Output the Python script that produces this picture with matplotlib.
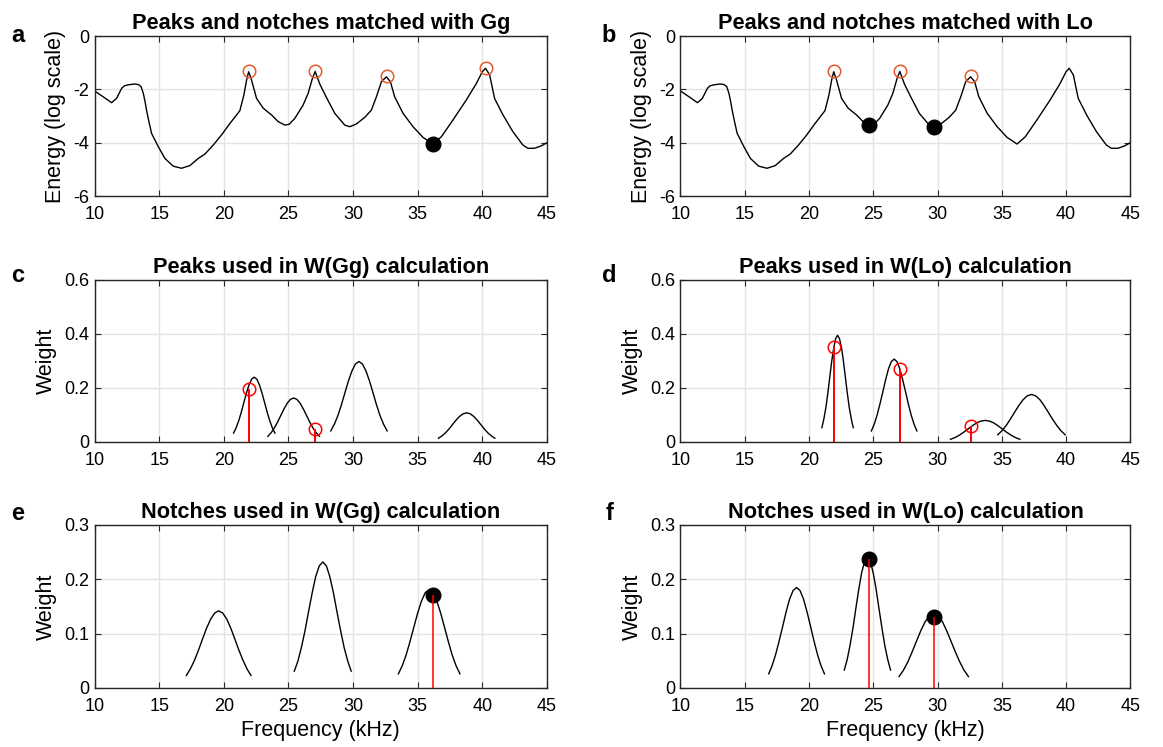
import matplotlib
matplotlib.use('Agg')
import matplotlib.pyplot as plt

plt.rcParams['font.family'] = ['Liberation Sans', 'DejaVu Sans']
plt.rcParams['axes.unicode_minus'] = False

# ---------------- data ----------------
freq = [10.0, 10.67, 11.32, 11.7, 12.1, 12.3, 12.6, 13.1, 13.4, 13.6, 13.77, 13.9, 14.02, 14.2,
        14.41, 14.67, 14.93, 15.44, 16.08, 16.73, 17.37, 18.02, 18.53, 19.18, 19.82, 20.47,
        21.24, 21.55, 21.76, 21.92, 22.14, 22.53, 23.05, 23.69, 24.2, 24.72, 25.05, 25.49,
        26.13, 26.52, 26.85, 27.06, 27.42, 27.93, 28.58, 29.35, 29.74, 30.25, 30.9, 31.41,
        31.8, 32.19, 32.57, 32.88, 33.21, 33.86, 34.63, 35.4, 36.18, 36.82, 37.72, 38.75,
        39.53, 39.99, 40.24, 40.56, 40.94, 41.59, 42.36, 43.13, 43.52, 44.03, 44.55, 45.0]
energy = [-2.06, -2.28, -2.5, -2.34, -1.96, -1.87, -1.83, -1.8, -1.82, -1.9, -2.15, -2.45,
          -2.78, -3.2, -3.65, -3.9, -4.15, -4.59, -4.88, -4.96, -4.86, -4.59, -4.43, -4.09,
          -3.71, -3.28, -2.8, -2.21, -1.65, -1.34, -1.65, -2.34, -2.71, -2.96, -3.21, -3.34,
          -3.31, -3.09, -2.59, -2.15, -1.59, -1.33, -1.8, -2.3, -2.9, -3.34, -3.4, -3.3, -3.05,
          -2.78, -2.28, -1.71, -1.53, -1.71, -2.28, -2.9, -3.4, -3.8, -4.05, -3.78, -3.15,
          -2.4, -1.78, -1.34, -1.21, -1.46, -2.34, -2.96, -3.59, -4.09, -4.21, -4.21, -4.12,
          -4.0]

gg_peak_f = [21.92, 27.06, 32.6, 40.3]
gg_peak_e = [-1.31, -1.31, -1.5, -1.19]
gg_notch_f = [36.2]
gg_notch_e = [-4.05]
lo_peak_f = [21.92, 27.06, 32.6]
lo_peak_e = [-1.31, -1.31, -1.5]
lo_notch_f = [24.7, 29.7]
lo_notch_e = [-3.33, -3.4]

# weights of the matched peaks / notches
gg_peak_used_f = [21.92, 27.06]
gg_peak_used_w = [0.197, 0.048]
lo_peak_used_f = [21.92, 27.06, 32.6]
lo_peak_used_w = [0.35, 0.27, 0.058]
gg_notch_used_f = [36.2]
gg_notch_used_w = [0.172]
lo_notch_used_f = [24.7, 29.7]
lo_notch_used_w = [0.238, 0.131]

# weighting curves
gg_peak_curves_x = [
    [20.75, 20.95, 21.15, 21.35, 21.55, 21.75, 21.95, 22.15, 22.35, 22.55, 22.75, 22.95, 23.15,
     23.35, 23.55, 23.75, 23.95],
    [23.4, 23.65, 23.9, 24.15, 24.4, 24.65, 24.9, 25.15, 25.4, 25.65, 25.9, 26.15, 26.4, 26.65,
     26.9, 27.15, 27.4],
    [28.27, 28.54, 28.82, 29.09, 29.36, 29.63, 29.91, 30.18, 30.45, 30.72, 30.99, 31.27, 31.54,
     31.81, 32.08, 32.36, 32.63],
    [36.6, 36.87, 37.15, 37.42, 37.69, 37.96, 38.24, 38.51, 38.78, 39.05, 39.32, 39.6, 39.87,
     40.14, 40.41, 40.69, 40.96],
]
gg_peak_curves_y = [
    [0.033, 0.0525, 0.0786, 0.1106, 0.1462, 0.1816, 0.212, 0.2327, 0.24, 0.2327, 0.212, 0.1816,
     0.1462, 0.1106, 0.0786, 0.0525, 0.033],
    [0.021, 0.034, 0.0515, 0.0732, 0.0977, 0.1222, 0.1434, 0.1579, 0.163, 0.1579, 0.1434, 0.1222,
     0.0977, 0.0732, 0.0515, 0.034, 0.021],
    [0.041, 0.0652, 0.0976, 0.1373, 0.1815, 0.2254, 0.2633, 0.2889, 0.298, 0.2889, 0.2633, 0.2254,
     0.1815, 0.1373, 0.0976, 0.0652, 0.041],
    [0.014, 0.0226, 0.0342, 0.0486, 0.0648, 0.081, 0.095, 0.1046, 0.108, 0.1046, 0.095, 0.081,
     0.0648, 0.0486, 0.0342, 0.0226, 0.014],
]
lo_peak_curves_x = [
    [21.0, 21.15, 21.31, 21.46, 21.61, 21.76, 21.92, 22.07, 22.22, 22.37, 22.53, 22.68, 22.83,
     22.98, 23.13, 23.29, 23.44],
    [24.85, 25.07, 25.29, 25.51, 25.74, 25.96, 26.18, 26.4, 26.62, 26.84, 27.06, 27.28, 27.51,
     27.73, 27.95, 28.17, 28.39],
    [31.0, 31.34, 31.68, 32.01, 32.35, 32.69, 33.03, 33.36, 33.7, 34.04, 34.38, 34.71, 35.05,
     35.39, 35.73, 36.06, 36.4],
    [34.68, 35.01, 35.34, 35.66, 35.99, 36.32, 36.65, 36.97, 37.3, 37.63, 37.96, 38.28, 38.61,
     38.94, 39.27, 39.59, 39.92],
]
lo_peak_curves_y = [
    [0.053, 0.0846, 0.1273, 0.1799, 0.2388, 0.2976, 0.3483, 0.3828, 0.395, 0.3828, 0.3483, 0.2976,
     0.2388, 0.1799, 0.1273, 0.0846, 0.053],
    [0.041, 0.0657, 0.0989, 0.1398, 0.1856, 0.2313, 0.2707, 0.2975, 0.307, 0.2975, 0.2707, 0.2313,
     0.1856, 0.1398, 0.0989, 0.0657, 0.041],
    [0.010, 0.0163, 0.0248, 0.0355, 0.0476, 0.0597, 0.0703, 0.0774, 0.080, 0.0774, 0.0703, 0.0597,
     0.0476, 0.0355, 0.0248, 0.0163, 0.010],
    [0.027, 0.0419, 0.0613, 0.0846, 0.1101, 0.1352, 0.1565, 0.1709, 0.176, 0.1709, 0.1565, 0.1352,
     0.1101, 0.0846, 0.0613, 0.0419, 0.027],
]
gg_notch_curves_x = [
    [17.1, 17.41, 17.73, 18.04, 18.35, 18.66, 18.98, 19.29, 19.6, 19.91, 20.23, 20.54, 20.85,
     21.16, 21.48, 21.79, 22.1],
    [25.45, 25.73, 26.0, 26.28, 26.55, 26.83, 27.1, 27.38, 27.65, 27.93, 28.2, 28.48, 28.75,
     29.03, 29.3, 29.58, 29.85],
    [33.5, 33.8, 34.1, 34.39, 34.69, 34.99, 35.29, 35.58, 35.88, 36.18, 36.47, 36.77, 37.07,
     37.37, 37.66, 37.96, 38.26],
]
gg_notch_curves_y = [
    [0.023, 0.0352, 0.051, 0.0698, 0.0901, 0.1099, 0.1267, 0.138, 0.142, 0.138, 0.1267, 0.1099,
     0.0901, 0.0698, 0.051, 0.0352, 0.023],
    [0.031, 0.0497, 0.0748, 0.1057, 0.1402, 0.1748, 0.2046, 0.2248, 0.232, 0.2248, 0.2046, 0.1748,
     0.1402, 0.1057, 0.0748, 0.0497, 0.031],
    [0.026, 0.041, 0.0608, 0.0848, 0.1114, 0.1378, 0.1603, 0.1756, 0.181, 0.1756, 0.1603, 0.1378,
     0.1114, 0.0848, 0.0608, 0.041, 0.026],
]
lo_notch_curves_x = [
    [16.86, 17.13, 17.4, 17.67, 17.95, 18.22, 18.49, 18.76, 19.03, 19.3, 19.57, 19.84, 20.12,
     20.39, 20.66, 20.93, 21.2],
    [22.74, 22.97, 23.19, 23.42, 23.64, 23.87, 24.09, 24.32, 24.54, 24.77, 24.99, 25.22, 25.44,
     25.67, 25.89, 26.12, 26.34],
    [27.0, 27.34, 27.68, 28.01, 28.35, 28.69, 29.03, 29.36, 29.7, 30.04, 30.38, 30.71, 31.05,
     31.39, 31.73, 32.06, 32.4],
]
lo_notch_curves_y = [
    [0.026, 0.0412, 0.0614, 0.086, 0.1133, 0.1404, 0.1637, 0.1794, 0.185, 0.1794, 0.1637, 0.1404,
     0.1133, 0.086, 0.0614, 0.0412, 0.026],
    [0.033, 0.0525, 0.0786, 0.1106, 0.1462, 0.1816, 0.212, 0.2327, 0.24, 0.2327, 0.212, 0.1816,
     0.1462, 0.1106, 0.0786, 0.0525, 0.033],
    [0.021, 0.0326, 0.0477, 0.0659, 0.0857, 0.1052, 0.1218, 0.133, 0.137, 0.133, 0.1218, 0.1052,
     0.0857, 0.0659, 0.0477, 0.0326, 0.021],
]

x_ticks = [10, 15, 20, 25, 30, 35, 40, 45]
energy_ticks = [-6, -4, -2, 0]
peak_w_ticks = [0, 0.2, 0.4, 0.6]
peak_w_labels = ['0', '0.2', '0.4', '0.6']
notch_w_ticks = [0, 0.1, 0.2, 0.3]
notch_w_labels = ['0', '0.1', '0.2', '0.3']

# ---------------- style ----------------
AX_COL = '#262626'
GRID_COL = '#E3E3E3'
PEAK_COL_A = '#E5592A'
TICK_FS = 13
LABEL_FS = 15.5
TITLE_FS = 15.7

fig = plt.figure(figsize=(11.63, 7.47), dpi=100)

L1, W1 = 0.0813, 0.3891
L2, W2 = 0.5851, 0.3869
rows = {'top': (0.7376, 0.2142), 'mid': (0.4083, 0.2169), 'bot': (0.0790, 0.2182)}


def style(ax, yticks, ylabels, ylim):
    ax.set_xlim(10, 45)
    ax.set_ylim(*ylim)
    ax.set_xticks(x_ticks)
    ax.set_xticklabels([str(t) for t in x_ticks])
    ax.set_yticks(yticks)
    ax.set_yticklabels(ylabels)
    ax.grid(True, color=GRID_COL, linewidth=1.0)
    ax.set_axisbelow(True)
    for s in ax.spines.values():
        s.set_color(AX_COL)
        s.set_linewidth(1.0)
    ax.tick_params(direction='in', top=True, right=True, length=4, width=0.8,
                   colors=AX_COL, labelsize=TICK_FS, labelcolor='black')
    ax.tick_params(axis='x', pad=7.5)
    ax.tick_params(axis='y', pad=4)


axes = {}
axes['a'] = fig.add_axes([L1, rows['top'][0], W1, rows['top'][1]])
axes['b'] = fig.add_axes([L2, rows['top'][0], W2, rows['top'][1]])
axes['c'] = fig.add_axes([L1, rows['mid'][0], W1, rows['mid'][1]])
axes['d'] = fig.add_axes([L2, rows['mid'][0], W2, rows['mid'][1]])
axes['e'] = fig.add_axes([L1, rows['bot'][0], W1, rows['bot'][1]])
axes['f'] = fig.add_axes([L2, rows['bot'][0], W2, rows['bot'][1]])

# top row: spectra
for key, pf, pe, nf, ne, ttl in [
        ('a', gg_peak_f, gg_peak_e, gg_notch_f, gg_notch_e, 'Peaks and notches matched with Gg'),
        ('b', lo_peak_f, lo_peak_e, lo_notch_f, lo_notch_e, 'Peaks and notches matched with Lo')]:
    ax = axes[key]
    ax.plot(freq, energy, color='black', linewidth=1.0)
    ax.plot(pf, pe, linestyle='none', marker='o', markersize=9, markerfacecolor='none',
            markeredgecolor=PEAK_COL_A, markeredgewidth=1.1)
    ax.plot(nf, ne, linestyle='none', marker='o', markersize=10.5, markerfacecolor='black',
            markeredgecolor='black')
    style(ax, energy_ticks, [str(t) for t in energy_ticks], (-6, 0))
    ax.set_title(ttl, fontsize=TITLE_FS, fontweight='bold', pad=5)
    ax.set_ylabel('Energy (log scale)', fontsize=LABEL_FS, labelpad=5)

# middle row: peaks weighting
for key, cx, cy, sf, sw, ttl in [
        ('c', gg_peak_curves_x, gg_peak_curves_y, gg_peak_used_f, gg_peak_used_w,
         'Peaks used in W(Gg) calculation'),
        ('d', lo_peak_curves_x, lo_peak_curves_y, lo_peak_used_f, lo_peak_used_w,
         'Peaks used in W(Lo) calculation')]:
    ax = axes[key]
    for xs, ys in zip(cx, cy):
        ax.plot(xs, ys, color='black', linewidth=1.0)
    ax.vlines(sf, 0, sw, color='red', linewidth=1.4)
    ax.plot(sf, sw, linestyle='none', marker='o', markersize=9, markerfacecolor='none',
            markeredgecolor='red', markeredgewidth=1.1)
    style(ax, peak_w_ticks, peak_w_labels, (0, 0.6))
    ax.set_title(ttl, fontsize=TITLE_FS, fontweight='bold', pad=5)
    ax.set_ylabel('Weight', fontsize=LABEL_FS, labelpad=5)

# bottom row: notches weighting
for key, cx, cy, sf, sw, ttl in [
        ('e', gg_notch_curves_x, gg_notch_curves_y, gg_notch_used_f, gg_notch_used_w,
         'Notches used in W(Gg) calculation'),
        ('f', lo_notch_curves_x, lo_notch_curves_y, lo_notch_used_f, lo_notch_used_w,
         'Notches used in W(Lo) calculation')]:
    ax = axes[key]
    for xs, ys in zip(cx, cy):
        ax.plot(xs, ys, color='black', linewidth=1.0)
    ax.plot(sf, sw, linestyle='none', marker='o', markersize=10.5, markerfacecolor='black',
            markeredgecolor='black', zorder=3)
    ax.vlines(sf, 0, sw, color='red', linewidth=1.1, zorder=4)
    style(ax, notch_w_ticks, notch_w_labels, (0, 0.3))
    ax.set_title(ttl, fontsize=TITLE_FS, fontweight='bold', pad=5)
    ax.set_ylabel('Weight', fontsize=LABEL_FS, labelpad=5)
    ax.set_xlabel('Frequency (kHz)', fontsize=LABEL_FS, labelpad=3)

# panel letters
letter_pos = {'a': (0.0155, 0.953), 'b': (0.5237, 0.953),
              'c': (0.0155, 0.631), 'd': (0.5237, 0.631),
              'e': (0.0155, 0.312), 'f': (0.5237, 0.312)}
for k, (x, y) in letter_pos.items():
    fig.text(x, y, k, fontsize=17, fontweight='bold', ha='center', va='center')

fig.savefig('out.png', dpi=100)
